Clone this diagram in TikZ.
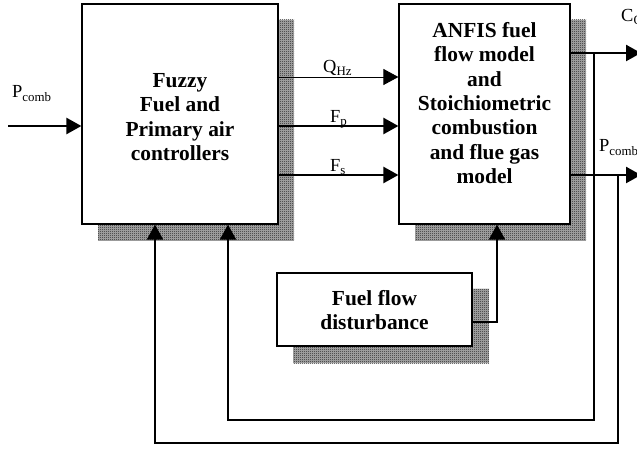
\documentclass[tikz,border=0pt]{standalone}
\usepackage{fontspec}
\setmainfont{Liberation Serif}
\usetikzlibrary{arrows.meta,shadows,patterns}
\definecolor{shadegray}{gray}{0.68}
\definecolor{dotgray}{gray}{0.12}
\pgfdeclarepatternformonly{checker}{\pgfqpoint{0bp}{0bp}}{\pgfqpoint{2bp}{2bp}}{\pgfqpoint{2bp}{2bp}}{%
  \pgfpathrectangle{\pgfqpoint{0bp}{0bp}}{\pgfqpoint{1bp}{1bp}}%
  \pgfpathrectangle{\pgfqpoint{1bp}{1bp}}{\pgfqpoint{1bp}{1bp}}%
  \pgfusepath{fill}}
\begin{document}
\begin{tikzpicture}[x=1bp,y=-1bp,
  shadowfill/.style={fill=shadegray, postaction={pattern=checker, pattern color=dotgray}},
  blockbox/.style={draw=black, line width=1.2bp, fill=white, inner sep=0pt},
  blocktext/.style={align=center, inner sep=0pt, font=\bfseries\fontsize{21.5}{24.5}\selectfont},
  sig/.style={line width=2.4bp, -{Triangle[length=15bp,width=16bp]}},
  thinsig/.style={line width=0.9bp, -{Triangle[length=15bp,width=16bp]}},
  fb/.style={line width=2bp, line join=miter, -{Triangle[length=15bp,width=16bp]}},
  lab/.style={inner sep=0pt, anchor=base west, font=\fontsize{18.5}{21}\selectfont}
]
\useasboundingbox (0,0) rectangle (637,450);

% shadows
\path[shadowfill] (98,20) rectangle (294,241);
\path[shadowfill] (415,20) rectangle (586,241);
\path[shadowfill] (293,289) rectangle (489,363);

% blocks
\node[blockbox, minimum width=196bp, minimum height=220bp] (fuzzy) at (180,114) {};
\node[blockbox, minimum width=171bp, minimum height=220bp] (anfis) at (484.5,114) {};
\node[blockbox, minimum width=195bp, minimum height=73bp] (dist) at (374.5,309.5) {};

\node[blocktext] (fuzzytext) at (180,117) {Fuzzy\\Fuel and\\Primary air\\controllers};
\node[blocktext] (anfistext) at (484.5,103) {ANFIS fuel\\flow model\\and\\Stoichiometric\\combustion\\and flue gas\\model};
\node[blocktext] (disttext) at (374.5,310) {Fuel flow\\disturbance};

% input
\coordinate (in) at (8,126);
\draw[sig] (in) -- (in -| fuzzy.west);
\node[lab] (lpin) at (12,98) {P\textsubscript{comb}};

% links between blocks
\coordinate (q0) at (278,77);
\coordinate (fp0) at (278,126);
\coordinate (fs0) at (278,175);
\draw[thinsig] (q0) -- (q0 -| anfis.west);
\draw[sig] (fp0) -- (fp0 -| anfis.west);
\draw[sig] (fs0) -- (fs0 -| anfis.west);
\node[lab] (lq) at (323,73) {Q\textsubscript{Hz}};
\node[lab] (lfp) at (330,123) {F\textsubscript{p}};
\node[lab] (lfs) at (330,172) {F\textsubscript{s}};

% outputs
\coordinate (c0) at (570,53);
\coordinate (cend) at (641,53);
\coordinate (p0) at (570,175);
\coordinate (pend) at (641,175);
\draw[sig] (c0) -- (cend);
\draw[sig] (p0) -- (pend);
\node[lab] (lc) at (621,22) {C\textsubscript{O2}};
\node[lab] (lpout) at (599,152) {P\textsubscript{comb}};

% feedback loops
\coordinate (j1) at (594,53);
\coordinate (j2) at (618,175);
\coordinate (fb1) at (228,420);
\coordinate (fb2) at (155,443);
\draw[fb] (j1) |- (fb1) -- (fb1 |- fuzzy.south);
\draw[fb] (j2) |- (fb2) -- (fb2 |- fuzzy.south);

% disturbance
\coordinate (d1) at (497,322);
\draw[fb] (d1 -| dist.east) -- (d1) -- (d1 |- anfis.south);
\end{tikzpicture}
\end{document}
